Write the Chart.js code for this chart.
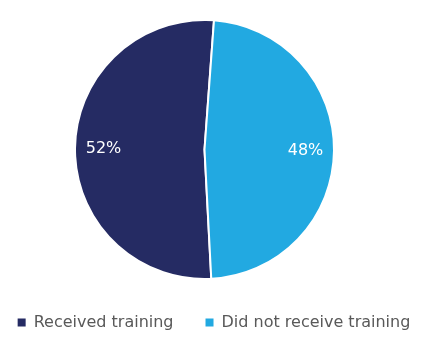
<!DOCTYPE html>
<html>
<head>
<meta charset="utf-8">
<script src="https://cdn.jsdelivr.net/npm/chart.js@4/dist/chart.umd.min.js"></script>
<style>
  html, body { margin: 0; padding: 0; background: #ffffff; }
  #wrap { position: relative; width: 428px; height: 349px; }
</style>
</head>
<body>
<div id="wrap"><canvas id="c" width="428" height="349"></canvas></div>
<script>
// ---- data ----
const categories = ['Received training', 'Did not receive training'];
const shares = [52, 48];
const sliceColors = ['#252B63', '#22A9E1'];

// ---- style constants ----
const FONT = 'DejaVu Sans';
const PIE_CX = 204.5, PIE_CY = 149.5, PIE_R = 130.5;

const pieAreaPlugin = {
  id: 'pieArea',
  afterLayout(chart) {
    Object.assign(chart.chartArea, {
      left: PIE_CX - PIE_R, right: PIE_CX + PIE_R,
      top: PIE_CY - PIE_R, bottom: PIE_CY + PIE_R,
      width: 2 * PIE_R, height: 2 * PIE_R
    });
  }
};

const sliceLabels = {
  id: 'sliceLabels',
  afterDatasetsDraw(chart) {
    const ctx = chart.ctx;
    const meta = chart.getDatasetMeta(0);
    const data = chart.data.datasets[0].data;
    ctx.save();
    ctx.font = '16px "' + FONT + '"';
    ctx.fillStyle = '#ffffff';
    ctx.textAlign = 'center';
    ctx.textBaseline = 'middle';
    meta.data.forEach((arc, i) => {
      const p = arc.getProps(['x', 'y', 'startAngle', 'endAngle', 'outerRadius'], true);
      const mid = (p.startAngle + p.endAngle) / 2;
      const r = p.outerRadius * 0.78;
      ctx.fillText(data[i] + '%', p.x + Math.cos(mid) * r, p.y + Math.sin(mid) * r);
    });
    ctx.restore();
  }
};

const defaultLabels = Chart.overrides.pie.plugins.legend.labels.generateLabels;

new Chart(document.getElementById('c'), {
  type: 'pie',
  data: {
    labels: categories,
    datasets: [{
      data: shares,
      backgroundColor: sliceColors,
      borderColor: '#ffffff',
      borderWidth: 2
    }]
  },
  options: {
    responsive: false,
    animation: false,
    rotation: 177,
    layout: { padding: { left: -20, right: -20, top: 0, bottom: 8.5 } },
    plugins: {
      tooltip: { enabled: false },
      legend: {
        position: 'bottom',
        align: 'center',
        labels: {
          boxWidth: 8,
          boxHeight: 8,
          padding: 32,
          color: '#595959',
          font: { family: FONT, size: 16 },
          generateLabels(chart) {
            return defaultLabels(chart).map(l => Object.assign(l, { lineWidth: 0, strokeStyle: l.fillStyle }));
          }
        }
      }
    }
  },
  plugins: [pieAreaPlugin, sliceLabels]
});
</script>
</body>
</html>
